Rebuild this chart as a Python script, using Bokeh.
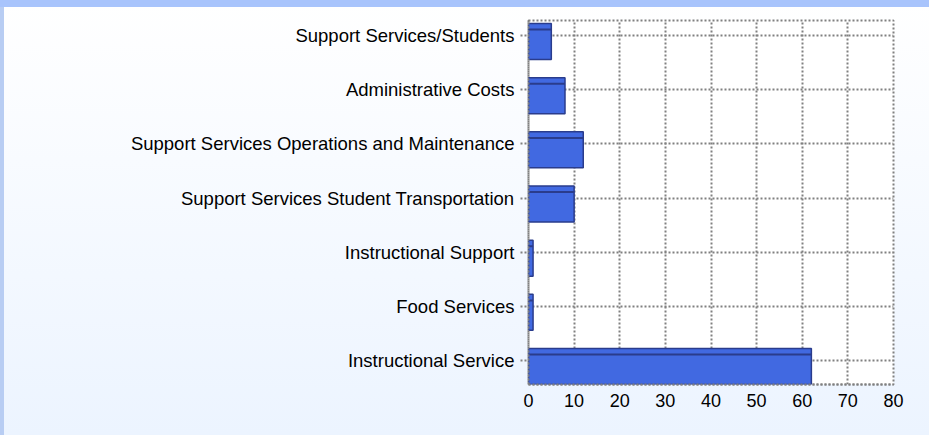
from bokeh.plotting import figure
from bokeh.models import Range1d, FixedTicker
from bokeh.embed import file_html
from bokeh.resources import INLINE

categories = [
    "Instructional Service",
    "Food Services",
    "Instructional Support",
    "Support Services Student Transportation",
    "Support Services Operations and Maintenance",
    "Administrative Costs",
    "Support Services/Students",
]
values = [62, 1, 1, 10, 12, 8, 5]
x_ticks = [0, 10, 20, 30, 40, 50, 60, 70, 80]

idx = list(range(len(categories)))

W, H = 929, 435
p = figure(width=W, height=H, output_backend="svg", toolbar_location=None,
           x_range=Range1d(0, 80), y_range=Range1d(-0.443, 6.277),
           min_border_left=528, min_border_right=36, min_border_top=20,
           min_border_bottom=51, frame_width=365, frame_height=364)

p.background_fill_color = "white"
p.border_fill_alpha = 0
p.styles = {
    "background": (
        "linear-gradient(#a8c4fc, #a8c4fc) 0 0 / 100% 7px no-repeat, "
        "linear-gradient(#b8cdf3, #b8cdf3) 0 0 / 4px 100% no-repeat, "
        "linear-gradient(#ffffff, #ecf4ff)"
    )
}
p.outline_line_color = "#808080"
p.outline_line_dash = "2 2"
p.outline_line_width = 2

# bars
bar_top = [i + 0.2215 for i in idx]
bar_bot = [i - 0.443 for i in idx]
p.quad(left=0, right=values, top=bar_top, bottom=bar_bot,
       fill_color="#4169e1", line_color="#2a3c8c", line_width=1.5)
strip_y = [i + 0.11 for i in idx]
p.segment(x0=[0] * len(values), x1=values, y0=strip_y, y1=strip_y,
          line_color="#2a3c8c", line_width=2)

# grids
p.xgrid.ticker = FixedTicker(ticks=x_ticks)
p.ygrid.ticker = FixedTicker(ticks=idx)
for g in (p.xgrid, p.ygrid):
    g.grid_line_color = "#808080"
    g.grid_line_dash = "2 2"
    g.grid_line_width = 2

# x axis
p.xaxis.ticker = FixedTicker(ticks=x_ticks)
p.xaxis.major_label_text_font = "Liberation Sans"
p.xaxis.major_label_text_font_size = "18px"
p.xaxis.major_label_text_color = "black"
p.xaxis.major_tick_out = 0
p.xaxis.major_tick_in = 0
p.xaxis.minor_tick_line_color = None
p.xaxis.axis_line_color = "#808080"
p.xaxis.axis_line_dash = "2 2"
p.xaxis.axis_line_width = 2
p.xaxis.major_label_standoff = 9

# y axis
p.yaxis.ticker = FixedTicker(ticks=idx)
p.yaxis.major_label_overrides = {i: c for i, c in zip(idx, categories)}
p.yaxis.major_label_text_font = "Liberation Sans"
p.yaxis.major_label_text_font_size = "18.5px"
p.yaxis.major_label_text_color = "black"
p.yaxis.major_tick_out = 8
p.yaxis.major_tick_in = 0
p.yaxis.major_tick_line_color = "#808080"
p.yaxis.major_tick_line_dash = "2 2"
p.yaxis.major_tick_line_width = 2
p.yaxis.minor_tick_line_color = None
p.yaxis.axis_line_color = "#808080"
p.yaxis.axis_line_dash = "2 2"
p.yaxis.axis_line_width = 2
p.yaxis.major_label_standoff = 6

open("out.html", "w").write(file_html(p, INLINE))
